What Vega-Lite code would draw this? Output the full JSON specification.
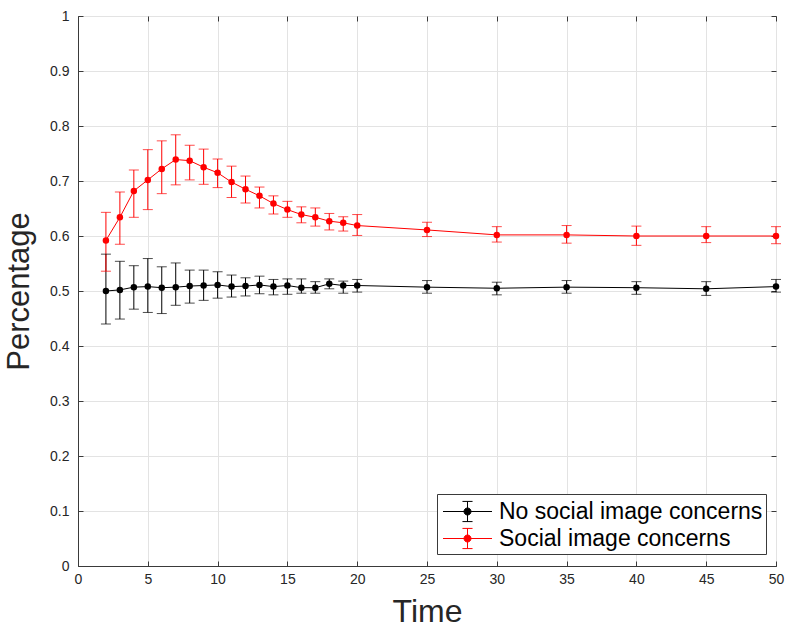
{
  "$schema": "https://vega.github.io/schema/vega-lite/v6.json",
  "width": 698,
  "height": 550,
  "autosize": {"type": "none"},
  "padding": {"left": 78, "top": 16, "right": 10, "bottom": 63},
  "background": "white",
  "config": {
    "font": "Liberation Sans",
    "view": {"stroke": "#3a3a3a", "strokeWidth": 1},
    "axis": {
      "labelFont": "Liberation Sans",
      "labelFontSize": 14,
      "labelColor": "#262626",
      "titleFont": "Liberation Sans",
      "titleFontWeight": "normal",
      "titleColor": "#262626",
      "domainColor": "#3a3a3a",
      "tickColor": "#3a3a3a",
      "gridColor": "#e3e3e3",
      "gridWidth": 1
    },
    "legend": {
      "labelFont": "Liberation Sans",
      "labelFontSize": 23,
      "labelColor": "#000000"
    }
  },
  "data": {"values": [
    {"s":"No social image concerns","t":2,"y":0.500,"lo":0.440,"hi":0.567},
    {"s":"No social image concerns","t":3,"y":0.502,"lo":0.449,"hi":0.554},
    {"s":"No social image concerns","t":4,"y":0.507,"lo":0.467,"hi":0.546},
    {"s":"No social image concerns","t":5,"y":0.508,"lo":0.461,"hi":0.559},
    {"s":"No social image concerns","t":6,"y":0.506,"lo":0.459,"hi":0.544},
    {"s":"No social image concerns","t":7,"y":0.507,"lo":0.474,"hi":0.551},
    {"s":"No social image concerns","t":8,"y":0.509,"lo":0.478,"hi":0.538},
    {"s":"No social image concerns","t":9,"y":0.510,"lo":0.483,"hi":0.538},
    {"s":"No social image concerns","t":10,"y":0.511,"lo":0.487,"hi":0.535},
    {"s":"No social image concerns","t":11,"y":0.508,"lo":0.489,"hi":0.529},
    {"s":"No social image concerns","t":12,"y":0.509,"lo":0.491,"hi":0.524},
    {"s":"No social image concerns","t":13,"y":0.511,"lo":0.495,"hi":0.527},
    {"s":"No social image concerns","t":14,"y":0.508,"lo":0.493,"hi":0.521},
    {"s":"No social image concerns","t":15,"y":0.510,"lo":0.494,"hi":0.522},
    {"s":"No social image concerns","t":16,"y":0.506,"lo":0.496,"hi":0.522},
    {"s":"No social image concerns","t":17,"y":0.506,"lo":0.496,"hi":0.517},
    {"s":"No social image concerns","t":18,"y":0.513,"lo":0.504,"hi":0.522},
    {"s":"No social image concerns","t":19,"y":0.510,"lo":0.496,"hi":0.518},
    {"s":"No social image concerns","t":20,"y":0.510,"lo":0.498,"hi":0.521},
    {"s":"No social image concerns","t":25,"y":0.507,"lo":0.496,"hi":0.519},
    {"s":"No social image concerns","t":30,"y":0.505,"lo":0.493,"hi":0.516},
    {"s":"No social image concerns","t":35,"y":0.507,"lo":0.496,"hi":0.519},
    {"s":"No social image concerns","t":40,"y":0.506,"lo":0.494,"hi":0.517},
    {"s":"No social image concerns","t":45,"y":0.504,"lo":0.492,"hi":0.517},
    {"s":"No social image concerns","t":50,"y":0.508,"lo":0.498,"hi":0.521},
    {"s":"Social image concerns","t":2,"y":0.592,"lo":0.536,"hi":0.643},
    {"s":"Social image concerns","t":3,"y":0.634,"lo":0.585,"hi":0.680},
    {"s":"Social image concerns","t":4,"y":0.682,"lo":0.634,"hi":0.720},
    {"s":"Social image concerns","t":5,"y":0.702,"lo":0.648,"hi":0.757},
    {"s":"Social image concerns","t":6,"y":0.722,"lo":0.677,"hi":0.773},
    {"s":"Social image concerns","t":7,"y":0.739,"lo":0.693,"hi":0.784},
    {"s":"Social image concerns","t":8,"y":0.737,"lo":0.702,"hi":0.765},
    {"s":"Social image concerns","t":9,"y":0.725,"lo":0.694,"hi":0.758},
    {"s":"Social image concerns","t":10,"y":0.715,"lo":0.688,"hi":0.740},
    {"s":"Social image concerns","t":11,"y":0.698,"lo":0.670,"hi":0.727},
    {"s":"Social image concerns","t":12,"y":0.685,"lo":0.660,"hi":0.709},
    {"s":"Social image concerns","t":13,"y":0.673,"lo":0.651,"hi":0.689},
    {"s":"Social image concerns","t":14,"y":0.659,"lo":0.640,"hi":0.673},
    {"s":"Social image concerns","t":15,"y":0.648,"lo":0.634,"hi":0.663},
    {"s":"Social image concerns","t":16,"y":0.639,"lo":0.624,"hi":0.653},
    {"s":"Social image concerns","t":17,"y":0.634,"lo":0.618,"hi":0.651},
    {"s":"Social image concerns","t":18,"y":0.627,"lo":0.611,"hi":0.641},
    {"s":"Social image concerns","t":19,"y":0.624,"lo":0.609,"hi":0.635},
    {"s":"Social image concerns","t":20,"y":0.619,"lo":0.601,"hi":0.639},
    {"s":"Social image concerns","t":25,"y":0.611,"lo":0.599,"hi":0.625},
    {"s":"Social image concerns","t":30,"y":0.602,"lo":0.589,"hi":0.617},
    {"s":"Social image concerns","t":35,"y":0.602,"lo":0.587,"hi":0.619},
    {"s":"Social image concerns","t":40,"y":0.600,"lo":0.583,"hi":0.618},
    {"s":"Social image concerns","t":45,"y":0.600,"lo":0.588,"hi":0.617},
    {"s":"Social image concerns","t":50,"y":0.600,"lo":0.586,"hi":0.617}
  ]},
  "resolve": {"axis": {"x": "independent", "y": "independent"}},
  "layer": [
    {
      "mark": {"type": "rule", "strokeWidth": 1},
      "encoding": {
        "x": {"field": "t", "type": "quantitative", "scale": {"domain": [0, 50], "nice": false},
              "axis": {"orient": "bottom", "values": [0,5,10,15,20,25,30,35,40,45,50], "format": "~g", "tickSize": -5, "labelPadding": 11, "title": "Time", "titleFontSize": 32, "titlePadding": 10, "grid": true, "labelFlush": false}},
        "y": {"field": "lo", "type": "quantitative", "scale": {"domain": [0, 1], "nice": false, "zero": false},
              "axis": {"orient": "left", "values": [0,0.1,0.2,0.3,0.4,0.5,0.6,0.7,0.8,0.9,1], "format": "~g", "tickSize": -5, "labelPadding": 14, "title": "Percentage", "titleFontSize": 31, "titlePadding": 14, "grid": true, "labelFlush": false}},
        "y2": {"field": "hi"},
        "color": {"field": "s", "type": "nominal", "scale": {"domain": ["No social image concerns", "Social image concerns"], "range": ["#000000", "#ff0000"]}}
      }
    },
    {
      "mark": {"type": "tick", "orient": "horizontal", "size": 10, "thickness": 1},
      "encoding": {
        "x": {"field": "t", "type": "quantitative", "axis": {"orient": "top", "values": [0,5,10,15,20,25,30,35,40,45,50], "labels": false, "tickSize": -5, "title": null, "grid": false, "domain": false}},
        "y": {"field": "lo", "type": "quantitative", "axis": {"orient": "right", "values": [0,0.1,0.2,0.3,0.4,0.5,0.6,0.7,0.8,0.9,1], "labels": false, "tickSize": -5, "title": null, "grid": false, "domain": false}},
        "color": {"field": "s", "type": "nominal"}
      }
    },
    {
      "mark": {"type": "tick", "orient": "horizontal", "size": 10, "thickness": 1},
      "encoding": {
        "x": {"field": "t", "type": "quantitative", "axis": null},
        "y": {"field": "hi", "type": "quantitative", "axis": null},
        "color": {"field": "s", "type": "nominal"}
      }
    },
    {
      "mark": {"type": "line", "strokeWidth": 1},
      "encoding": {
        "x": {"field": "t", "type": "quantitative", "axis": null},
        "y": {"field": "y", "type": "quantitative", "axis": null},
        "color": {"field": "s", "type": "nominal"}
      }
    },
    {
      "mark": {"type": "point", "filled": true, "size": 42, "opacity": 1},
      "encoding": {
        "x": {"field": "t", "type": "quantitative", "axis": null},
        "y": {"field": "y", "type": "quantitative", "axis": null},
        "color": {"field": "s", "type": "nominal",
                 "legend": {"title": null, "orient": "none", "legendX": 359, "legendY": 478, "symbolType": "M-1.75,0H1.75M0,-0.72V0.72M-0.36,-0.72H0.36M-0.36,0.72H0.36M0.25,0A0.25,0.25,0,1,1,-0.25,0A0.25,0.25,0,1,1,0.25,0Z", "symbolSize": 784, "symbolOffset": 13, "symbolStrokeWidth": 1, "symbolOpacity": 1, "labelOffset": 17, "padding": 3, "rowPadding": 0, "strokeColor": "#3a3a3a", "fillColor": "white", "labelLimit": 400,
                   "encode": {"symbols": {"update": {"stroke": {"scale": "color", "field": "value"}, "fill": {"scale": "color", "field": "value"}, "strokeWidth": {"value": 1}, "opacity": {"value": 1}}}}}}
      }
    }
  ]
}
